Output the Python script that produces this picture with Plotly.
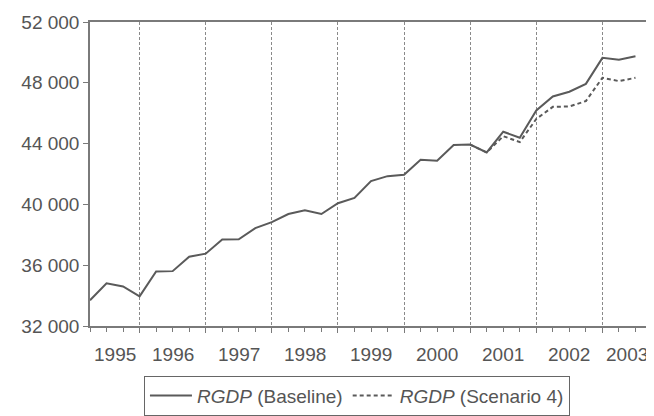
import plotly.graph_objects as go

# Quarterly observations (index 0 = first quarter shown)
quarter_index = list(range(34))
rgdp_baseline = [33690, 34810, 34600, 33950, 35590, 35610, 36560, 36760, 37690, 37710,
                 38440, 38830, 39370, 39610, 39370, 40080, 40430, 41530, 41860, 41950,
                 42940, 42870, 43910, 43935, 43420, 44780, 44390, 46180, 47100, 47410,
                 47930, 49640, 49510, 49740]
scenario_index = list(range(23, 34))
rgdp_scenario4 = [43935, 43420, 44490, 44100, 45620, 46420, 46440, 46800, 48330, 48110, 48330]

year_labels = ["1995", "1996", "1997", "1998", "1999", "2000", "2001", "2002", "2003"]
year_label_pos = [1.5, 5, 9, 13, 17, 21, 25, 29, 32.5]
year_boundaries = [3, 7, 11, 15, 19, 23, 27, 31]
y_ticks = [32000, 36000, 40000, 44000, 48000, 52000]

FONT = "Liberation Sans, Arial, sans-serif"
TXT = "#555555"
LINE = "#5a5a5a"
AX = "#7a7a7a"
FS = 19

fig = go.Figure()
fig.add_trace(go.Scatter(x=quarter_index, y=rgdp_baseline, mode="lines",
                         name="<i>RGDP</i> (Baseline)",
                         line=dict(color=LINE, width=2)))
fig.add_trace(go.Scatter(x=scenario_index, y=rgdp_scenario4, mode="lines",
                         name="<i>RGDP</i> (Scenario 4)",
                         line=dict(color=LINE, width=2, dash="4px,3px")))

for lbl, pos in zip(year_labels, year_label_pos):
    fig.add_annotation(x=pos, y=-0.095, xref="x", yref="paper", text=lbl,
                       showarrow=False, xanchor="center", yanchor="middle",
                       font=dict(family=FONT, size=FS, color=TXT))

# page body has an 8px default margin: size the figure so the plot area lands
# where the reference has it
fig.update_layout(
    width=646, height=408,
    margin=dict(l=82, r=2, t=14, b=90, autoexpand=False),
    paper_bgcolor="white", plot_bgcolor="white",
    separators=". ",
    font=dict(family=FONT, size=FS, color=TXT),
    showlegend=True,
    legend=dict(orientation="h", x=0.475, xanchor="center", y=-0.163, yanchor="top",
                bordercolor="#666666", borderwidth=1, bgcolor="white",
                font=dict(family=FONT, size=FS, color=TXT),
                itemwidth=42, tracegroupgap=0),
)

fig.update_xaxes(range=[0, 34], tickvals=year_boundaries, showticklabels=False,
                 ticks="outside", ticklen=5, tickcolor=AX, tickwidth=1,
                 showgrid=True, gridcolor="#8a8a8a", griddash="3px,2px", gridwidth=1,
                 minor=dict(dtick=1, tick0=0, ticks="outside", ticklen=4,
                            tickcolor=AX, showgrid=False),
                 showline=True, linecolor=AX, linewidth=1.5, mirror=True,
                 zeroline=False)
fig.update_yaxes(range=[32000, 52000], tickvals=y_ticks, tickformat=",d",
                 ticks="outside", ticklen=5, tickcolor=AX,
                 showgrid=False, showline=True, linecolor=AX, linewidth=1.5,
                 mirror=True, zeroline=False,
                 tickfont=dict(family=FONT, size=FS, color=TXT))

fig.write_html("out.html")
